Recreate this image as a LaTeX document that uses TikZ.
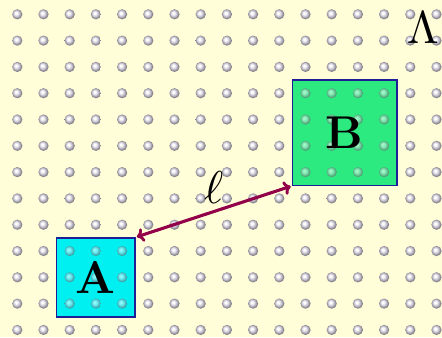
\documentclass[tikz,border=0pt]{standalone}
\usetikzlibrary{arrows.meta}
\definecolor{bgyellow}{RGB}{255,254,216}
\definecolor{ballc}{RGB}{205,201,214}
\definecolor{sqcyan}{RGB}{0,240,242}
\definecolor{sqgreen}{RGB}{45,234,128}
\definecolor{sqborder}{RGB}{30,30,150}
\definecolor{arrowred}{RGB}{145,0,72}
\colorlet{ballcA}{ballc!45!sqcyan}
\colorlet{ballcB}{ballc!45!sqgreen}
\pgfdeclareradialshading{myball}{\pgfpoint{-7bp}{7bp}}{%
  color(0bp)=(white); color(5bp)=(white); color(14bp)=(ballc);
  color(24bp)=(ballc!62!black); color(30bp)=(ballc!58!black); color(50bp)=(ballc!58!black)}
\pgfdeclareradialshading{myballA}{\pgfpoint{-7bp}{7bp}}{%
  color(0bp)=(white!55!sqcyan); color(5bp)=(white!55!sqcyan); color(14bp)=(ballcA);
  color(24bp)=(ballcA!70!black); color(30bp)=(ballcA!65!black); color(50bp)=(ballcA!65!black)}
\pgfdeclareradialshading{myballB}{\pgfpoint{-7bp}{7bp}}{%
  color(0bp)=(white!55!sqgreen); color(5bp)=(white!55!sqgreen); color(14bp)=(ballcB);
  color(24bp)=(ballcB!70!black); color(30bp)=(ballcB!65!black); color(50bp)=(ballcB!65!black)}
\newcommand{\bigtxt}[1]{\scalebox{4.6}{#1}}
\tikzset{
  sq/.style={draw=sqborder, line width=1.5pt, inner sep=0pt},
  bigtext/.style={inner sep=0pt},
  link/.style={{To[length=7pt,width=14pt,line width=2.8pt]}-{To[length=7pt,width=14pt,line width=2.8pt]}, line width=3.1pt, draw=arrowred, shorten <=1pt, shorten >=1pt}
}
\begin{document}
\begin{tikzpicture}[x=26.2pt,y=-26.3pt]
\useasboundingbox[fill=bgyellow] (-0.66,-0.544) rectangle (16.21,12.27);
\foreach \i in {0,...,16}
  \foreach \j in {0,...,12}
    \shade[shading=myball] (\i,\j) circle[radius=5.1pt];
\node[sq, fill=sqcyan, minimum width=78.6pt, minimum height=78.9pt] (A) at (3,10) {};
\node[sq, fill=sqgreen, minimum width=104.8pt, minimum height=105.2pt] (B) at (12.5,4.5) {};
\foreach \i in {2,3,4}
  \foreach \j in {9,10,11}
    \shade[shading=myballA] (\i,\j) circle[radius=5.1pt];
\foreach \i in {11,...,14}
  \foreach \j in {3,...,6}
    \shade[shading=myballB] (\i,\j) circle[radius=5.1pt];
\node[bigtext] (Alabel) at (A.center) {\bigtxt{\textbf{A}}};
\node[bigtext] (Blabel) at (B.center) {\bigtxt{\textbf{B}}};
\draw[link] (A.north east) -- (B.south west) node[midway, above=7pt, inner sep=0pt] (l) {\bigtxt{$\ell$}};
\node[bigtext] (Lambda) at (15.48,0.52) {\bigtxt{$\Lambda$}};
\end{tikzpicture}
\end{document}
